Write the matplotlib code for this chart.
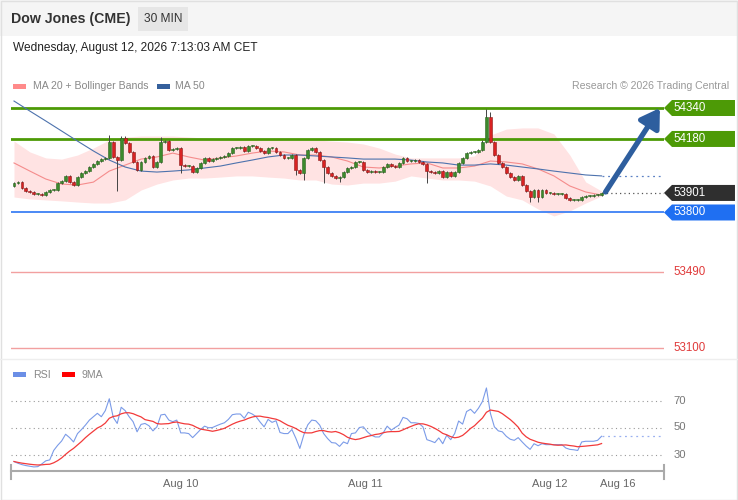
import matplotlib.pyplot as plt
import matplotlib.patches as mpatches
import numpy as np
import pandas as pd

plt.rcParams['font.family'] = ['Liberation Sans', 'DejaVu Sans']

title = "Dow Jones (CME)"
interval = "30 MIN"
timestamp = "Wednesday, August 12, 2026 7:13:03 AM CET"
credit = "Research \u00a9 2026 Trading Central"

# 30 min closes, oldest first (open = previous close)
first_open = 53937
closes = [53952, 53957, 53927, 53911, 53906, 53896, 53896, 53890, 53906, 53916,
          53916, 53952, 53962, 53989, 53957, 53942, 53983, 54004, 54014, 54035,
          54051, 54066, 54076, 54082, 54164, 54087, 54071, 54185, 54159, 54113,
          54061, 54020, 54061, 54082, 54092, 54035, 54061, 54164, 54169, 54123,
          54128, 54133, 54045, 54040, 54040, 54009, 54030, 54056, 54082, 54066,
          54076, 54082, 54087, 54092, 54107, 54133, 54133, 54138, 54118, 54144,
          54144, 54133, 54118, 54107, 54133, 54133, 54113, 54097, 54082, 54082,
          54097, 54020, 54004, 54082, 54123, 54133, 54113, 54071, 54035, 54004,
          53989, 53978, 53983, 54009, 54030, 54035, 54061, 54061, 54020, 54009,
          54014, 54009, 54009, 54035, 54051, 54040, 54035, 54056, 54082, 54066,
          54066, 54071, 54061, 54051, 54014, 54009, 54004, 54014, 53983, 54009,
          53989, 54009, 54056, 54082, 54107, 54113, 54113, 54123, 54164, 54293,
          54164, 54097, 54056, 54035, 54004, 53983, 53968, 53989, 53942, 53911,
          53880, 53916, 53880, 53916, 53901, 53901, 53896, 53896, 53896, 53875,
          53865, 53865, 53865, 53880, 53885, 53885, 53890, 53890, 53901]

# long wicks (candle index -> price)
wick_high = {24: 54200, 27: 54195, 28: 54195, 37: 54190, 118: 54175,
             119: 54335, 120: 54320}
wick_low = {26: 53911, 42: 54004, 71: 53994, 73: 53968, 78: 53952,
            82: 53957, 104: 53952, 130: 53854, 132: 53854}

# indicator readings every 4 candles
ma_step = 4
ma50 = [54376, 54324, 54273, 54221, 54169, 54118, 54071, 54035, 54014, 54009,
        54014, 54020, 54030, 54040, 54056, 54071, 54087, 54097, 54097, 54092,
        54087, 54082, 54076, 54076, 54076, 54071, 54061, 54056, 54045, 54045,
        54051, 54045, 54035, 54025, 54014, 54004, 53994, 53989]
ma20 = [54056, 54014, 53973, 53947, 53942, 53957, 54014, 54045, 54076, 54087,
        54107, 54087, 54071, 54082, 54092, 54107, 54118, 54113, 54097, 54097,
        54087, 54066, 54035, 54030, 54040, 54051, 54056, 54030, 54030, 54040,
        54066, 54061, 54051, 54025, 53989, 53937, 53906, 53890]
bb_upper = [54169, 54113, 54082, 54076, 54097, 54133, 54175, 54190, 54195, 54195,
            54195, 54190, 54185, 54180, 54180, 54185, 54180, 54175, 54175, 54175,
            54169, 54164, 54154, 54133, 54102, 54082, 54082, 54082, 54082, 54092,
            54200, 54231, 54237, 54237, 54206, 54097, 53958, 53911]
bb_lower = [53880, 53870, 53865, 53860, 53854, 53849, 53849, 53865, 53916, 53947,
            53968, 53978, 53978, 53983, 53989, 53989, 53983, 53978, 53968, 53968,
            53947, 53942, 53952, 53952, 53962, 53989, 53978, 53968, 53968, 53962,
            53937, 53885, 53865, 53818, 53782, 53808, 53849, 53885]

rsi = [24.8, 23.5, 22.5, 21.8, 21.3, 20.8, 21.0, 23.0, 25.3, 26.0,
       33.0, 36.8, 40.0, 45.0, 42.5, 39.3, 45.5, 48.5, 51.8, 55.5,
       58.0, 60.5, 58.0, 62.5, 71.3, 57.5, 53.0, 65.0, 62.5, 58.0,
       54.3, 46.8, 52.3, 53.0, 51.3, 47.5, 50.5, 59.3, 59.8, 55.5,
       54.3, 55.5, 46.0, 46.0, 45.5, 42.5, 45.5, 48.5, 51.0, 49.8,
       50.0, 51.3, 52.5, 53.5, 56.0, 59.5, 60.0, 60.0, 56.8, 61.3,
       60.0, 58.0, 54.0, 50.5, 56.0, 53.8, 55.0, 46.3, 45.5, 45.5,
       48.5, 42.0, 34.5, 44.5, 52.0, 55.5, 55.0, 51.8, 45.5, 41.8,
       38.8, 38.5, 36.0, 39.3, 38.0, 45.5, 46.0, 50.0, 50.5, 46.8,
       44.3, 43.0, 43.0, 46.0, 51.0, 48.0, 50.0, 51.8, 57.5, 56.5,
       53.5, 53.5, 53.0, 50.5, 41.0, 40.0, 38.8, 42.3, 38.0, 44.3,
       41.0, 45.5, 54.8, 52.5, 61.8, 63.5, 60.5, 64.3, 69.3, 79.3,
       60.5, 50.5, 47.5, 46.8, 43.5, 41.3, 40.5, 42.5, 39.3, 36.3,
       33.8, 38.0, 36.5, 38.0, 37.3, 37.3, 37.3, 37.3, 37.3, 34.8,
       33.8, 33.5, 33.0, 39.3, 39.8, 39.8, 39.8, 40.5, 43.5]

resistances = [54340, 54180]
pivot = 53800
supports = [53490, 53100]

date_labels = ['Aug 10', 'Aug 11', 'Aug 12', 'Aug 16']
date_pos = [42, 88.5, 135, 152]

W, H = 738, 500


def fx(p):
    return p / W


def fy(p):
    return 1 - p / H


fig = plt.figure(figsize=(W / 100, H / 100), dpi=100)
fig.patch.set_facecolor('white')

# header
fig.add_artist(mpatches.Rectangle((0, fy(36)), 1, 36 / H, transform=fig.transFigure,
                                  fc='#f5f5f5', ec='none'))
fig.add_artist(mpatches.Rectangle((fx(138), fy(31)), 50 / W, 24 / H, transform=fig.transFigure,
                                  fc='#e6e6e6', ec='none'))
fig.text(fx(11), fy(19), title, fontsize=10.2, fontweight='bold', color='#333', va='center')
fig.text(fx(163), fy(19), interval, fontsize=8.6, color='#333', va='center', ha='center')
fig.text(fx(13), fy(48), timestamp, fontsize=8.6, color='#222', va='center')

# legends
fig.add_artist(mpatches.Rectangle((fx(13), fy(89)), 13 / W, 5 / H, transform=fig.transFigure,
                                  fc='#ff8a8a', ec='none'))
fig.text(fx(33), fy(86), 'MA 20 + Bollinger Bands', fontsize=7.6, color='#888', va='center')
fig.add_artist(mpatches.Rectangle((fx(157), fy(89)), 13 / W, 5 / H, transform=fig.transFigure,
                                  fc='#35609c', ec='none'))
fig.text(fx(175), fy(86), 'MA 50', fontsize=7.6, color='#888', va='center')
fig.text(fx(729), fy(86), credit, fontsize=7.6, color='#999', va='center', ha='right')

fig.add_artist(mpatches.Rectangle((fx(13), fy(377)), 13 / W, 5 / H, transform=fig.transFigure,
                                  fc='#6b8fe6', ec='none'))
fig.text(fx(33), fy(374.5), 'RSI', fontsize=7.6, color='#888', va='center')
fig.add_artist(mpatches.Rectangle((fx(62), fy(377)), 13 / W, 5 / H, transform=fig.transFigure,
                                  fc='#ff0000', ec='none'))
fig.text(fx(82), fy(374.5), '9MA', fontsize=7.6, color='#888', va='center')

# separator and frame
fig.add_artist(plt.Line2D([0, 1], [fy(359), fy(359)], transform=fig.transFigure,
                          color='#eeeeee', lw=1))
fig.add_artist(mpatches.Rectangle((0.001, 0.001), 0.998, 0.997, transform=fig.transFigure,
                                  fc='none', ec='#e0e0e0', lw=1))

n = len(closes)
idx = np.arange(n)
x0 = (11 - 14) / 3.97
x1 = (664 - 14) / 3.97

# ---- price panel ----
ax = fig.add_axes([fx(11), fy(358), 653 / W, 298 / H])
ax.set_xlim(x0, x1)
ax.set_ylim(54340 - 250 / 0.1935, 54340 + 48 / 0.1935)
ax.axis('off')

mx = np.arange(0, n, ma_step)
ax.fill_between(mx, bb_lower, bb_upper, color='#ffdede', lw=0, alpha=0.85, zorder=1)
ax.plot(mx, ma20, color='#f58c8c', lw=0.8, zorder=2)
ax.plot(mx, ma50, color='#4d72ad', lw=0.8, zorder=2)
ax.plot([mx[-1], x1], [ma50[-1], ma50[-1]], color='#5b80c4', lw=0.9, ls=(0, (1.5, 3)), zorder=2)

for lv in resistances:
    ax.axhline(lv, color='#4d9a06', lw=2.0, zorder=1.5)
ax.axhline(pivot, color='#3d80f5', lw=1.3, zorder=1.5)
for lv in supports:
    ax.axhline(lv, color='#f2a0a0', lw=1.0, zorder=1.5)

c = np.array(closes, dtype=float)
o = np.r_[first_open, c[:-1]]
hi = np.maximum(o, c) + 4
lo = np.minimum(o, c) - 4
for k, v in wick_high.items():
    hi[k] = v
for k, v in wick_low.items():
    lo[k] = v
up = c >= o
body = np.maximum(np.abs(c - o), 4)
bottom = np.minimum(o, c)
ax.vlines(idx, lo, hi, color='#444', lw=0.7, zorder=3)
ax.bar(idx[up], body[up], bottom=bottom[up], width=0.72, color='#3c8a2c',
       edgecolor='#2c6420', lw=0.4, zorder=4)
ax.bar(idx[~up], body[~up], bottom=bottom[~up], width=0.72, color='#d92222',
       edgecolor='#8a1a1a', lw=0.4, zorder=4)

last = closes[-1]
ax.plot([n - 1, x1], [last, last], color='#555', lw=0.9, ls=(0, (1, 2.5)), zorder=2)

ax.annotate('', xy=(162.7, resistances[0]), xytext=(n, last + 5),
            arrowprops=dict(arrowstyle='-|>,head_length=0.8,head_width=0.5',
                            color='#2e5e9e', lw=3.8, mutation_scale=14,
                            shrinkA=0, shrinkB=0), zorder=6)

# right side tags
ty = ax.get_yaxis_transform()
hh = 8 / 0.1935
tag_levels = [resistances[0], resistances[1], last, pivot]
tag_colors = ['#4d9a06', '#4d9a06', '#2f2f2f', '#1f6ff2']
for lv, col in zip(tag_levels, tag_colors):
    poly = mpatches.Polygon([(1.0, lv), (1.0122, lv + hh), (1.1087, lv + hh),
                             (1.1087, lv - hh), (1.0122, lv - hh)],
                            closed=True, transform=ty, fc=col, ec='none', clip_on=False)
    ax.add_patch(poly)
    ax.text(1.0145, lv, f'{lv:.0f}', transform=ty, color='white', fontsize=8.3,
            va='center', ha='left', clip_on=False)
for lv in supports:
    ax.text(1.0145, lv, f'{lv:.0f}', transform=ty, color='#e03a3a', fontsize=8.3,
            va='center', ha='left', clip_on=False)

# ---- RSI panel ----
ax2 = fig.add_axes([fx(11), fy(471), 653 / W, 91 / H])
ax2.set_xlim(x0, x1)
ax2.set_ylim(50 - (471 - 427.5) / 1.35, 50 + (427.5 - 380) / 1.35)
for s in ['top', 'right', 'left']:
    ax2.spines[s].set_visible(False)
ax2.spines['bottom'].set_color('#aaaaaa')
ax2.spines['bottom'].set_linewidth(1.5)
ax2.set_yticks([])
ax2.set_xticks(date_pos, date_labels)
ax2.tick_params(axis='x', length=0, pad=5.5, labelsize=8, labelcolor='#666')
for xe in [0, 1]:
    ax2.plot([xe, xe], [-0.09, 0.07], transform=ax2.transAxes, color='#aaaaaa',
             lw=1.5, clip_on=False)

for lv in [70, 50, 30]:
    ax2.axhline(lv, color='#999', lw=0.8, ls=(0, (1, 3)))
    ax2.text(1.0145, lv, str(lv), transform=ax2.get_yaxis_transform(), color='#777',
             fontsize=8.1, va='center', ha='left', clip_on=False)

rsi_ma = pd.Series(rsi).rolling(9, min_periods=1).mean()
ax2.plot(idx, rsi, color='#7b9be8', lw=0.8)
ax2.plot(idx, rsi_ma, color='#f23a3a', lw=0.9)
ax2.plot([n - 1, x1], [rsi[-1], rsi[-1]], color='#9ab0f0', lw=0.9, ls=(0, (1.5, 3)))

fig.savefig('out.png', dpi=100)
